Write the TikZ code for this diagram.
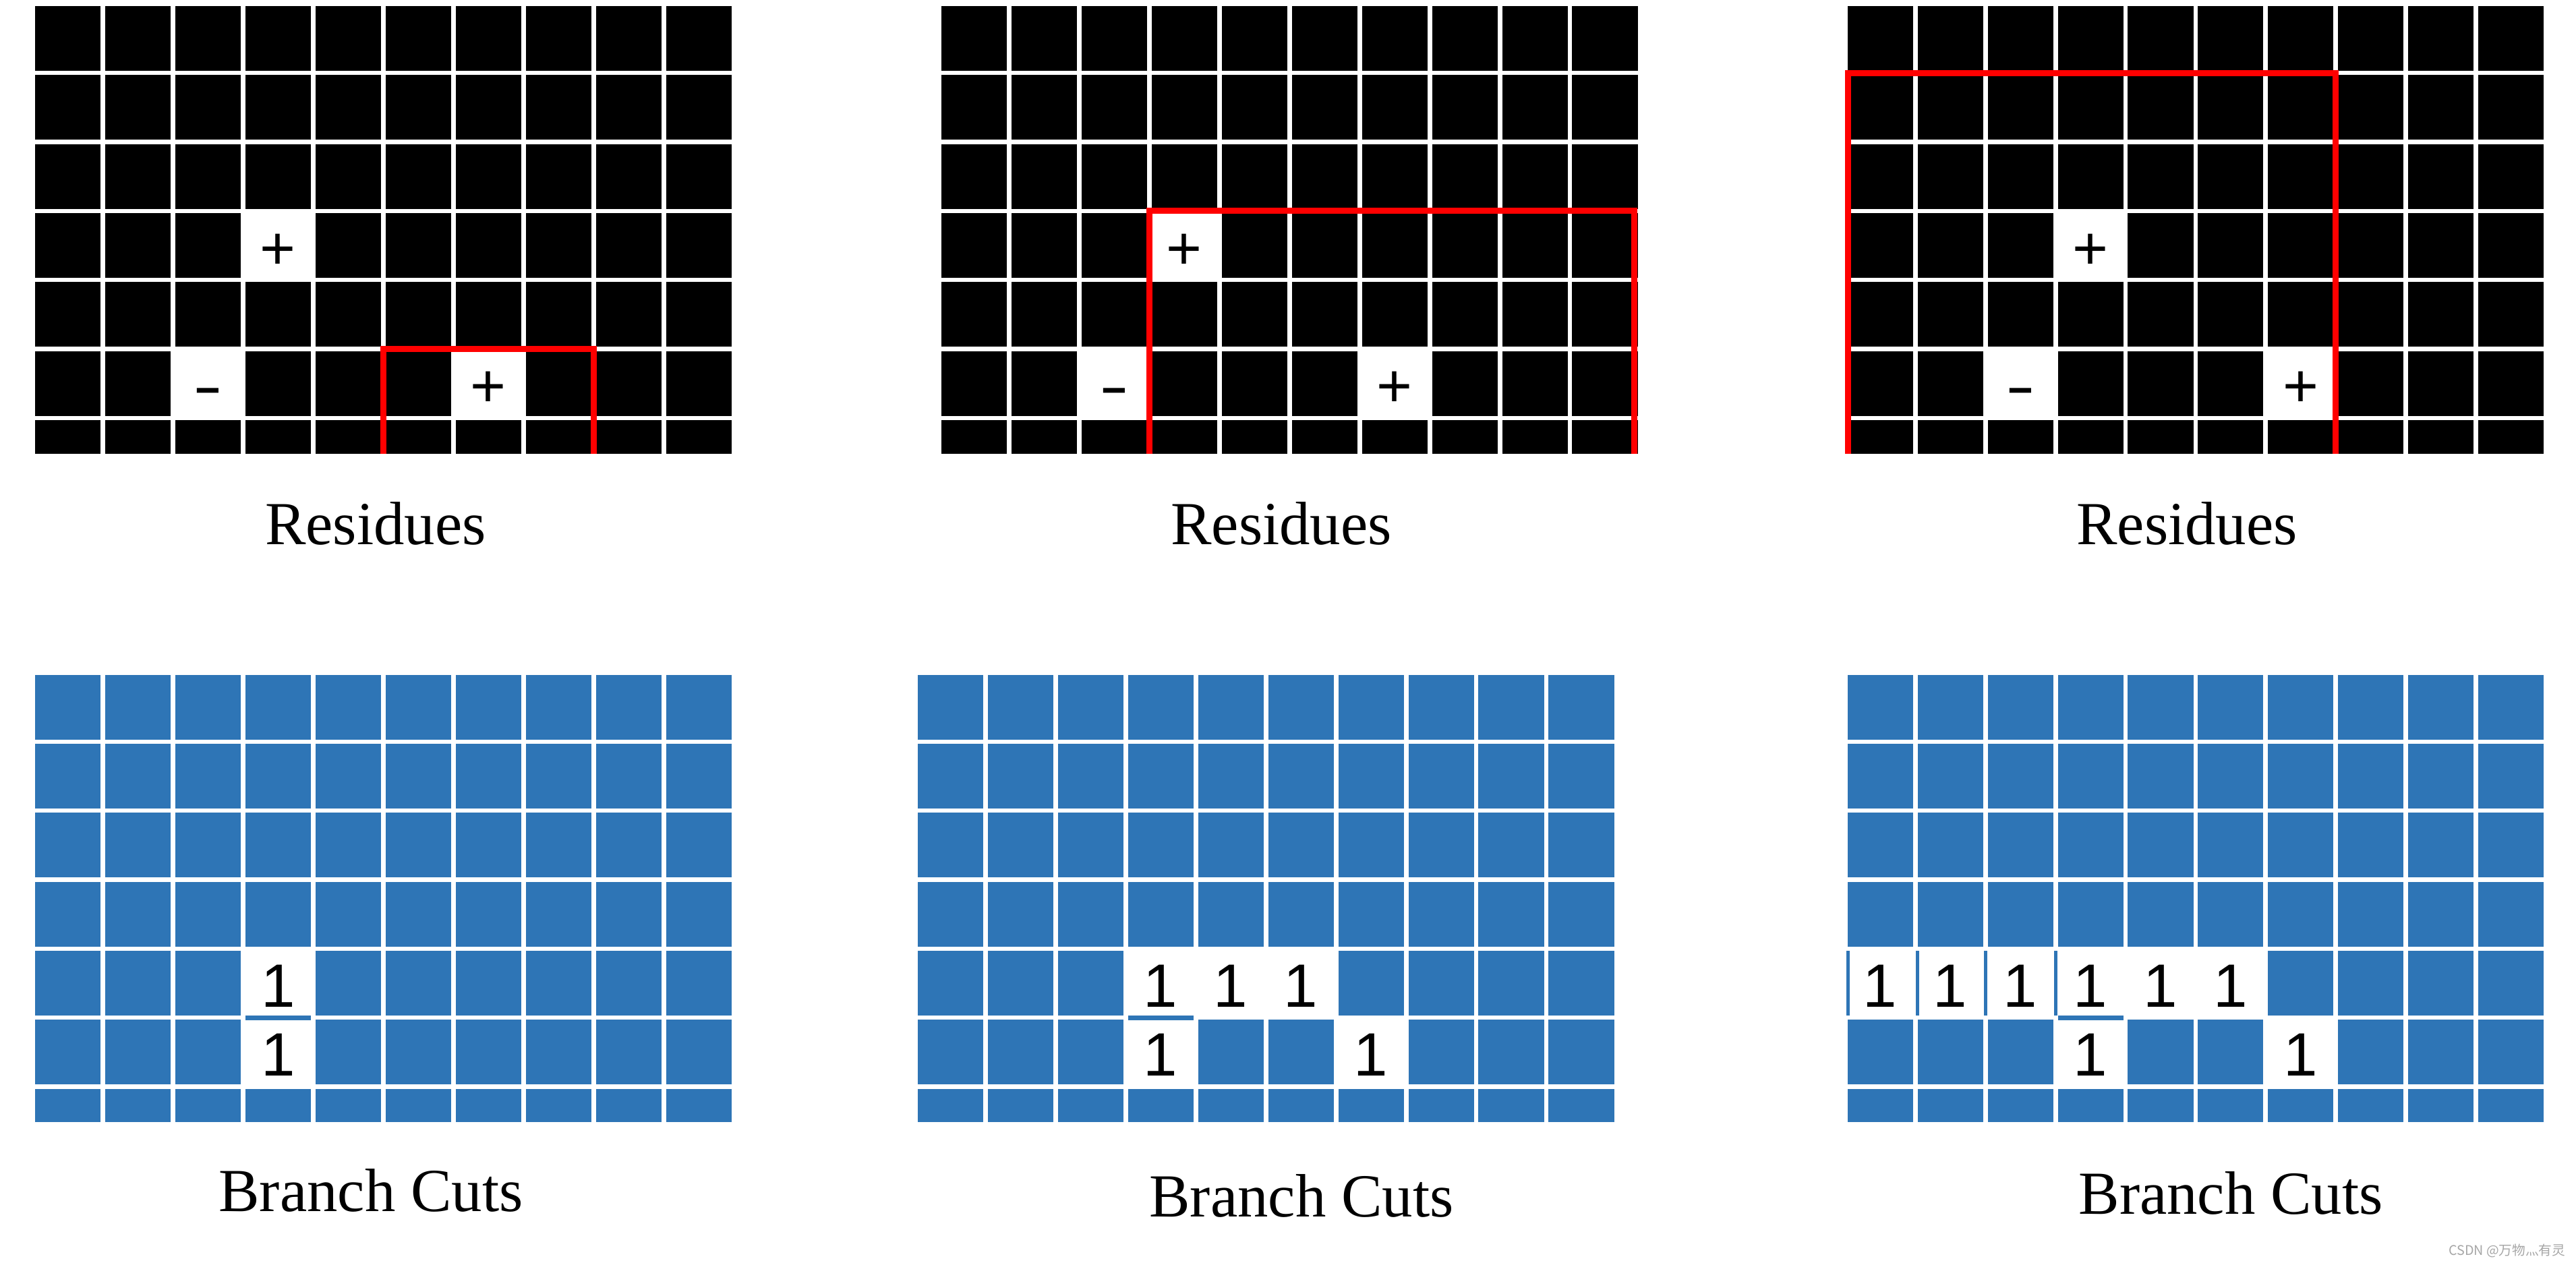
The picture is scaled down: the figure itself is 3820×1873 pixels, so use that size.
\documentclass[tikz,border=0pt]{standalone}
\usepackage{fontspec}
\setmainfont{Liberation Serif}
\newfontfamily\cellfont{Liberation Sans}
\newfontfamily\cjkfont{Noto Sans CJK SC}
\definecolor{cutblue}{RGB}{46,117,182}
\definecolor{framered}{RGB}{255,0,0}

% 10 x 7 cells, (c,r) is the centre of a cell, the last row is cut off
\newcommand{\cellgrid}[2]{%
  \foreach \c in {0,...,9}{
    \foreach \r in {0,...,5}{
      \fill[#1] (\c,\r) ++(-0.485cm,0.48cm) rectangle ++(0.97cm,-0.96cm);
    }
    \fill[#1] (\c,6) ++(-0.485cm,0.48cm) rectangle ++(0.97cm,-#2);
  }%
}

\begin{document}
\begin{tikzpicture}[
                x=0.01cm, y=-0.01cm,
                panel/.style={
                    x=1.039cm,
                    y=-1.023cm
                },
                hole/.style={
                    fill=white,
                    rectangle,
                    minimum width=0.99cm,
                    minimum height=0.98cm,
                    inner sep=0pt,
                    outer sep=0pt,
                    text height=0.70cm,
                    text depth=0cm,
                    font=\cellfont\fontsize{25.8}{30}\selectfont
                },
                redframe/.style={
                    draw=framered,
                    line width=0.09cm,
                    line join=miter
                },
                caption/.style={
                    anchor=base,
                    inner sep=0pt,
                    font=\fontsize{25.8}{30}\selectfont
                }
            ]
    \useasboundingbox (0,0) rectangle (3820,1873);

    % residues
    \begin{scope}[panel, xshift=1.005cm, yshift=-0.57cm]
        \cellgrid{black}{0.50cm}
        \node[hole] (a-plus1) at (3,3) {+};
        \node[hole] (a-minus) at (2,5) {\scalebox{1.45}[1]{-}};
        \node[hole] (a-plus2) at (6,5) {+};
        \draw[redframe] (4.5,6.02) -- (4.5,4.5) -- (7.5,4.5) -- (7.5,6.02);
    \end{scope}

    \begin{scope}[panel, xshift=14.435cm, yshift=-0.57cm]
        \cellgrid{black}{0.50cm}
        \node[hole] (b-plus1) at (3,3) {+};
        \node[hole] (b-minus) at (2,5) {\scalebox{1.45}[1]{-}};
        \node[hole] (b-plus2) at (6,5) {+};
        \draw[redframe] (2.5,6.02) -- (2.5,2.5) -- (9.42,2.5) -- (9.42,6.02);
    \end{scope}

    \begin{scope}[panel, xshift=27.865cm, yshift=-0.57cm]
        \cellgrid{black}{0.50cm}
        \node[hole] (c-plus1) at (3,3) {+};
        \node[hole] (c-minus) at (2,5) {\scalebox{1.45}[1]{-}};
        \node[hole] (c-plus2) at (6,5) {+};
        \draw[redframe] (-0.457,6.02) -- (-0.457,0.5) -- (6.5,0.5) -- (6.5,6.02);
    \end{scope}

    % branch cuts
    \begin{scope}[panel, xshift=1.005cm, yshift=-10.48cm]
        \cellgrid{cutblue}{0.49cm}
        \node[hole] (d-cut1) at (3,4) {1};
        \node[hole] (d-cut2) at (3,5) {1};
        \fill[cutblue] (3,4.5) ++(-0.485cm,0.033cm) rectangle ++(0.97cm,-0.066cm);
    \end{scope}

    \begin{scope}[panel, xshift=14.085cm, yshift=-10.48cm]
        \cellgrid{cutblue}{0.49cm}
        \foreach \c in {3,4,5}
            \node[hole] (e-cut\c) at (\c,4) {1};
        \node[hole] (e-low3) at (3,5) {1};
        \node[hole] (e-low6) at (6,5) {1};
        \fill[cutblue] (3,4.5) ++(-0.485cm,0.033cm) rectangle ++(0.97cm,-0.066cm);
    \end{scope}

    \begin{scope}[panel, xshift=27.865cm, yshift=-10.48cm]
        \cellgrid{cutblue}{0.49cm}
        \foreach \c in {0,...,5}
            \node[hole] (f-cut\c) at (\c,4) {1};
        \node[hole] (f-low3) at (3,5) {1};
        \node[hole] (f-low6) at (6,5) {1};
        \fill[cutblue] (3,4.5) ++(-0.485cm,0.033cm) rectangle ++(0.97cm,-0.066cm);
        \foreach \bx in {-0.46,0.53,1.5,2.5}
            \fill[cutblue] (\bx,4) ++(-0.025cm,0.48cm) rectangle ++(0.05cm,-0.96cm);
    \end{scope}

    \node[caption] (cap-a) at (557,807)  {Residues};
    \node[caption] (cap-b) at (1900,807) {Residues};
    \node[caption] (cap-c) at (3243,807) {Residues};
    \node[caption] (cap-d) at (550,1796)  {Branch Cuts};
    \node[caption] (cap-e) at (1930,1804) {Branch Cuts};
    \node[caption] (cap-f) at (3308,1800) {Branch Cuts};

    \node[anchor=base east, inner sep=0pt, text=gray!70,
          font=\cjkfont\fontsize{5.6}{6}\selectfont] (mark) at (3805,1861) {CSDN @万物灬有灵};
\end{tikzpicture}
\end{document}
